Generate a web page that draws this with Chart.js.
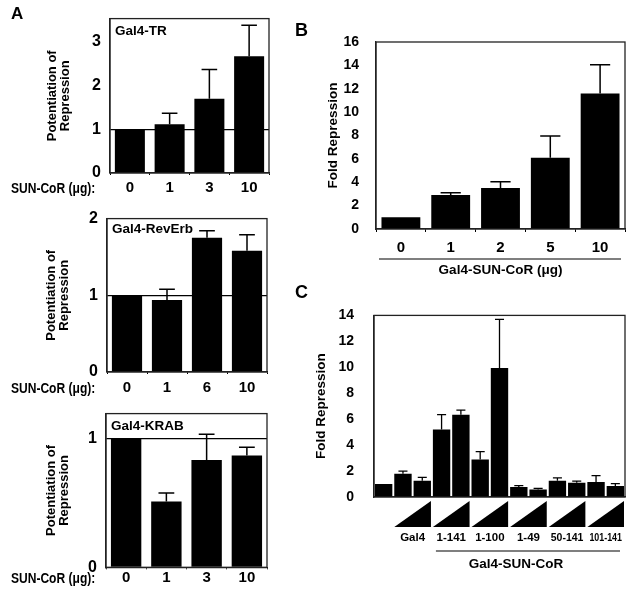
<!DOCTYPE html>
<html><head><meta charset="utf-8">
<script src="https://cdn.jsdelivr.net/npm/chart.js@4.4.1/dist/chart.umd.min.js"></script>
<style>
body{margin:0;background:#fff;width:638px;height:597px;position:relative;overflow:hidden;font-family:'Liberation Sans',Arial,sans-serif;font-weight:bold;}
canvas{position:absolute;}
.t{position:absolute;white-space:nowrap;line-height:1;color:#000;z-index:2;}
.sun{font-size:14px;transform:scaleX(0.86);transform-origin:0 0;}
</style></head><body>
<canvas id="a1" width="290" height="200" style="left:0;top:0"></canvas>
<canvas id="a2" width="290" height="200" style="left:0;top:200px"></canvas>
<canvas id="a3" width="290" height="202" style="left:0;top:395px"></canvas>
<canvas id="b" width="338" height="270" style="left:300px;top:20px"></canvas>
<canvas id="c" width="338" height="302" style="left:300px;top:295px"></canvas>
<div class="t" style="left:11px;top:5px;font-size:17px">A</div>
<div class="t" style="left:295px;top:21px;font-size:18px">B</div>
<div class="t" style="left:295px;top:283px;font-size:18px">C</div>
<div class="t sun" style="left:11px;top:181px">SUN-CoR (μg):</div>
<div class="t sun" style="left:11px;top:381px">SUN-CoR (μg):</div>
<div class="t sun" style="left:11px;top:571px">SUN-CoR (μg):</div>
<script>
// ---------- data ----------
const doseTR = ['0', '1', '3', '10'];
const valTR = [1.00, 1.11, 1.69, 2.66];
const sdTR = [0, 0.25, 0.67, 0.71];
const ticksTR = [0, 1, 2, 3];

const doseRev = ['0', '1', '6', '10'];
const valRev = [1.00, 0.94, 1.75, 1.58];
const sdRev = [0, 0.14, 0.09, 0.21];
const ticksRev = [0, 1, 2];

const doseKRAB = ['0', '1', '3', '10'];
const valKRAB = [1.00, 0.51, 0.83, 0.865];
const sdKRAB = [0, 0.066, 0.20, 0.065];
const ticksKRAB = [0, 1];

const doseB = ['0', '1', '2', '5', '10'];
const valB = [1.0, 2.9, 3.5, 6.1, 11.6];
const sdB = [0, 0.2, 0.55, 1.85, 2.45];

const groupC = ['Gal4', '1-141', '1-100', '1-49', '50-141', '101-141'];
const catC = ['none', 'Gal4 low', 'Gal4 high', '1-141 low', '1-141 high', '1-100 low', '1-100 high',
  '1-49 low', '1-49 high', '50-141 low', '50-141 high', '101-141 low', '101-141 high'];
const valC = [1.0, 1.8, 1.25, 5.2, 6.35, 2.9, 9.95, 0.78, 0.58, 1.25, 1.1, 1.15, 0.85];
const sdC = [0, 0.2, 0.27, 1.15, 0.35, 0.6, 3.75, 0.1, 0.08, 0.22, 0.12, 0.5, 0.18];

// ---------- plugins ----------
const FONT = "'Liberation Sans', Arial, sans-serif";
const errorBars = {
  id: 'errorBars',
  afterDatasetsDraw(chart, args, opts) {
    const sd = opts.sd; if (!sd) return;
    const meta = chart.getDatasetMeta(0);
    const y = chart.scales.y, ctx = chart.ctx;
    const vals = chart.data.datasets[0].data;
    ctx.save();
    ctx.strokeStyle = '#000'; ctx.lineWidth = opts.lw || 1.5;
    meta.data.forEach((bar, i) => {
      if (!sd[i]) return;
      const yt = y.getPixelForValue(vals[i] + sd[i]);
      const half = bar.width * 0.26;
      ctx.beginPath();
      ctx.moveTo(bar.x, bar.y); ctx.lineTo(bar.x, yt);
      ctx.moveTo(bar.x - half, yt); ctx.lineTo(bar.x + half, yt);
      ctx.stroke();
    });
    ctx.restore();
  }
};
const frame = {
  id: 'frame',
  afterDraw(chart, args, opts) {
    const a = chart.chartArea, ctx = chart.ctx;
    ctx.save();
    ctx.strokeStyle = '#222'; ctx.lineWidth = 1.3;
    ctx.strokeRect(a.left, a.top, a.right - a.left, a.bottom - a.top);
    ctx.fillStyle = '#000';
    if (opts.title) {
      ctx.font = 'bold 13.5px ' + FONT;
      ctx.textBaseline = 'middle'; ctx.textAlign = 'left';
      ctx.fillText(opts.title, a.left + 5, a.top + opts.dy);
    }
    if (opts.rule) {
      ctx.lineWidth = 1.2; ctx.strokeStyle = '#000';
      ctx.beginPath();
      ctx.moveTo(a.left + 3, a.bottom + 30); ctx.lineTo(a.right - 4, a.bottom + 30);
      ctx.stroke();
    }
    if (opts.groups) {
      const xs = chart.scales.x;
      const cw = (xs.right - xs.left) / chart.data.labels.length;
      ctx.font = 'bold 11.5px ' + FONT;
      ctx.textAlign = 'center'; ctx.textBaseline = 'middle';
      let lineL = null;
      opts.groups.forEach((g, k) => {
        const x0 = xs.getPixelForValue(1 + 2 * k) - cw / 2 + 1;
        const x1 = xs.getPixelForValue(2 + 2 * k) + cw / 2 - 1;
        ctx.beginPath();
        ctx.moveTo(x0, a.bottom + 30); ctx.lineTo(x1, a.bottom + 30); ctx.lineTo(x1, a.bottom + 4);
        ctx.closePath(); ctx.fill();
        ctx.fillText(g, (x0 + x1) / 2, a.bottom + 41, (x1 - x0) - 4);
        if (k === 1) lineL = x0 + 3;
      });
      const lineR = a.right - 5;
      ctx.lineWidth = 1.2; ctx.strokeStyle = '#000';
      ctx.beginPath(); ctx.moveTo(lineL, a.bottom + 54); ctx.lineTo(lineR, a.bottom + 54); ctx.stroke();
      ctx.font = 'bold 13.5px ' + FONT;
      ctx.fillText('Gal4-SUN-CoR', (lineL + lineR) / 2 - 12, a.bottom + 67);
    }
    ctx.restore();
  }
};

Chart.defaults.font.family = FONT;
Chart.defaults.color = '#000';

function panelA(id, labels, vals, sd, ticks, max, title, dy, geo) {
  new Chart(document.getElementById(id), {
    type: 'bar',
    data: { labels, datasets: [{ data: vals, backgroundColor: '#000', barPercentage: 0.755, categoryPercentage: 1 }] },
    options: {
      responsive: false, animation: false, devicePixelRatio: 1,
      layout: { padding: { top: geo.top, right: geo.right, left: 0, bottom: 0 } },
      plugins: { legend: { display: false }, tooltip: { enabled: false }, errorBars: { sd }, frame: { title, dy } },
      scales: {
        x: {
          grid: { display: true, drawOnChartArea: false, drawTicks: true, tickLength: 2, color: '#000' },
          border: { display: true, color: '#222', width: 1.3 },
          ticks: { color: '#000', font: { size: 15, weight: 'bold' }, padding: geo.xpad },
          afterFit: s => { s.height = geo.xh; }
        },
        y: {
          min: 0, max,
          afterBuildTicks: s => { s.ticks = ticks.map(v => ({ value: v })); },
          grid: { color: c => (c.tick && c.tick.value === 1) ? '#000' : 'rgba(0,0,0,0)', drawTicks: false, lineWidth: 1.2 },
          border: { display: true, color: '#222', width: 1.3 },
          ticks: { color: '#000', font: { size: 16, weight: 'bold' }, padding: 9 },
          title: { display: true, text: ['Potentiation of', 'Repression'], color: '#000',
                   font: { size: 13, weight: 'bold', lineHeight: 1.0 }, padding: { top: geo.tpad, bottom: 0 } },
          afterFit: s => { s.width = geo.yw; }
        }
      }
    },
    plugins: [errorBars, frame]
  });
}

panelA('a1', doseTR, valTR, sdTR, ticksTR, 3.52, 'Gal4-TR', 12.5,
  { top: 14.5, right: 21, yw: 110, xh: 27, xpad: 3.5, tpad: 45.5 });
panelA('a2', doseRev, valRev, sdRev, ticksRev, 2, 'Gal4-RevErb', 10.5,
  { top: 12.7, right: 23, yw: 107, xh: 28, xpad: 5, tpad: 44.5 });
panelA('a3', doseKRAB, valKRAB, sdKRAB, ticksKRAB, 1.19, 'Gal4-KRAB', 13,
  { top: 14, right: 23, yw: 106, xh: 29.7, xpad: 0, tpad: 44.5 });

new Chart(document.getElementById('b'), {
  type: 'bar',
  data: { labels: doseB, datasets: [{ data: valB, backgroundColor: '#000', barPercentage: 0.78, categoryPercentage: 1 }] },
  options: {
    responsive: false, animation: false, devicePixelRatio: 1,
    layout: { padding: { top: 22, right: 13, left: 0, bottom: 0 } },
    plugins: { legend: { display: false }, tooltip: { enabled: false }, errorBars: { sd: sdB }, frame: { rule: true } },
    scales: {
      x: {
        grid: { display: true, drawOnChartArea: false, drawTicks: true, tickLength: 3, color: '#000' },
        border: { display: true, color: '#222', width: 1.3 },
        ticks: { color: '#000', font: { size: 15, weight: 'bold' }, padding: 6.7 },
        title: { display: true, text: 'Gal4-SUN-CoR (μg)', color: '#000', font: { size: 13.5, weight: 'bold' }, padding: { top: 0, bottom: 12 } },
        afterFit: s => { s.height = 61; }
      },
      y: {
        min: 0, max: 16,
        ticks: { stepSize: 2, color: '#000', font: { size: 14, weight: 'bold' }, padding: 9 },
        grid: { display: false },
        border: { display: true, color: '#222', width: 1.3 },
        title: { display: true, text: 'Fold Repression', color: '#000', font: { size: 13.5, weight: 'bold' }, padding: { top: 25, bottom: 0 } },
        afterFit: s => { s.width = 76; }
      }
    }
  },
  plugins: [errorBars, frame]
});

new Chart(document.getElementById('c'), {
  type: 'bar',
  data: { labels: catC, datasets: [{ data: valC, backgroundColor: '#000', barPercentage: 0.9, categoryPercentage: 1 }] },
  options: {
    responsive: false, animation: false, devicePixelRatio: 1,
    layout: { padding: { top: 12, right: 13, left: 0, bottom: 0 } },
    plugins: { legend: { display: false }, tooltip: { enabled: false }, errorBars: { sd: sdC, lw: 1.3 }, frame: { groups: groupC } },
    scales: {
      x: {
        grid: { display: false },
        border: { display: true, color: '#222', width: 1.3 },
        ticks: { display: false },
        afterFit: s => { s.height = 100; }
      },
      y: {
        min: 0, max: 14,
        ticks: { stepSize: 2, color: '#000', font: { size: 14, weight: 'bold' }, padding: 12 },
        grid: { display: false },
        border: { display: true, color: '#222', width: 1.3 },
        title: { display: true, text: 'Fold Repression', color: '#000', font: { size: 13.5, weight: 'bold' }, padding: { top: 13, bottom: 0 } },
        afterFit: s => { s.width = 74; }
      }
    }
  },
  plugins: [errorBars, frame]
});
</script>
</body></html>
